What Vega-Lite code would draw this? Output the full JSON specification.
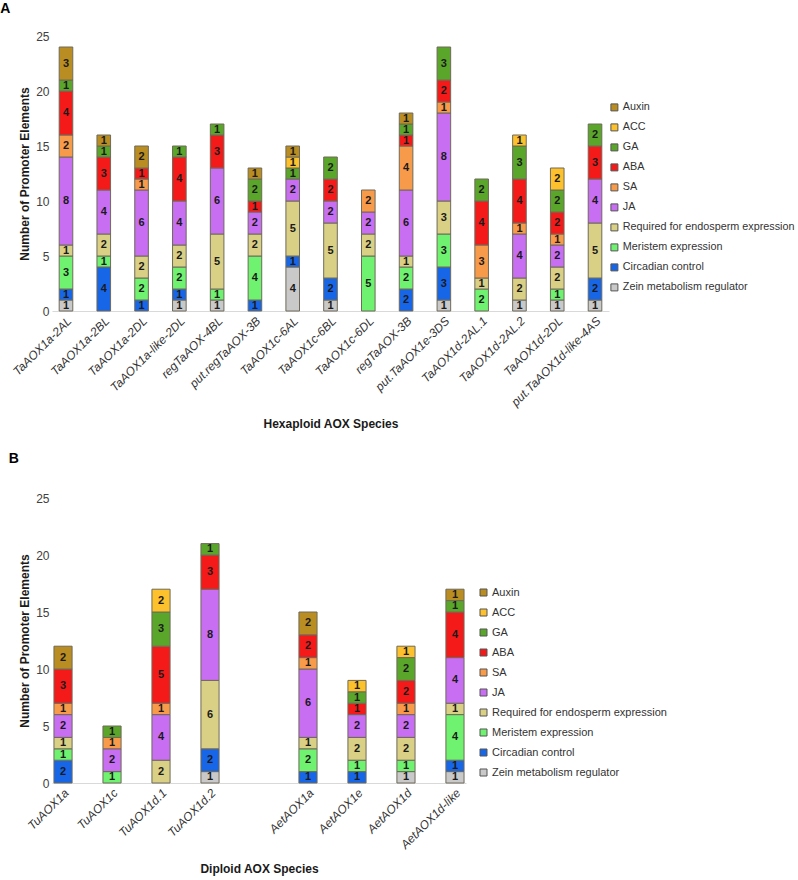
{
  "$schema": "https://vega.github.io/schema/vega-lite/v6.json",
  "padding": {"left": 0, "top": 2, "right": 0, "bottom": 5},
  "background": "white",
  "datasets": {
    "hex": [
      {"gene": "TaAOX1a-2AL", "cat": "Zein metabolism regulator", "n": 1},
      {"gene": "TaAOX1a-2AL", "cat": "Circadian control", "n": 1},
      {"gene": "TaAOX1a-2AL", "cat": "Meristem expression", "n": 3},
      {"gene": "TaAOX1a-2AL", "cat": "Required for endosperm expression", "n": 1},
      {"gene": "TaAOX1a-2AL", "cat": "JA", "n": 8},
      {"gene": "TaAOX1a-2AL", "cat": "SA", "n": 2},
      {"gene": "TaAOX1a-2AL", "cat": "ABA", "n": 4},
      {"gene": "TaAOX1a-2AL", "cat": "GA", "n": 1},
      {"gene": "TaAOX1a-2AL", "cat": "Auxin", "n": 3},
      {"gene": "TaAOX1a-2BL", "cat": "Circadian control", "n": 4},
      {"gene": "TaAOX1a-2BL", "cat": "Meristem expression", "n": 1},
      {"gene": "TaAOX1a-2BL", "cat": "Required for endosperm expression", "n": 2},
      {"gene": "TaAOX1a-2BL", "cat": "JA", "n": 4},
      {"gene": "TaAOX1a-2BL", "cat": "ABA", "n": 3},
      {"gene": "TaAOX1a-2BL", "cat": "GA", "n": 1},
      {"gene": "TaAOX1a-2BL", "cat": "Auxin", "n": 1},
      {"gene": "TaAOX1a-2DL", "cat": "Circadian control", "n": 1},
      {"gene": "TaAOX1a-2DL", "cat": "Meristem expression", "n": 2},
      {"gene": "TaAOX1a-2DL", "cat": "Required for endosperm expression", "n": 2},
      {"gene": "TaAOX1a-2DL", "cat": "JA", "n": 6},
      {"gene": "TaAOX1a-2DL", "cat": "SA", "n": 1},
      {"gene": "TaAOX1a-2DL", "cat": "ABA", "n": 1},
      {"gene": "TaAOX1a-2DL", "cat": "Auxin", "n": 2},
      {"gene": "TaAOX1a-like-2DL", "cat": "Zein metabolism regulator", "n": 1},
      {"gene": "TaAOX1a-like-2DL", "cat": "Circadian control", "n": 1},
      {"gene": "TaAOX1a-like-2DL", "cat": "Meristem expression", "n": 2},
      {"gene": "TaAOX1a-like-2DL", "cat": "Required for endosperm expression", "n": 2},
      {"gene": "TaAOX1a-like-2DL", "cat": "JA", "n": 4},
      {"gene": "TaAOX1a-like-2DL", "cat": "ABA", "n": 4},
      {"gene": "TaAOX1a-like-2DL", "cat": "GA", "n": 1},
      {"gene": "regTaAOX-4BL", "cat": "Zein metabolism regulator", "n": 1},
      {"gene": "regTaAOX-4BL", "cat": "Meristem expression", "n": 1},
      {"gene": "regTaAOX-4BL", "cat": "Required for endosperm expression", "n": 5},
      {"gene": "regTaAOX-4BL", "cat": "JA", "n": 6},
      {"gene": "regTaAOX-4BL", "cat": "ABA", "n": 3},
      {"gene": "regTaAOX-4BL", "cat": "GA", "n": 1},
      {"gene": "put.regTaAOX-3B", "cat": "Circadian control", "n": 1},
      {"gene": "put.regTaAOX-3B", "cat": "Meristem expression", "n": 4},
      {"gene": "put.regTaAOX-3B", "cat": "Required for endosperm expression", "n": 2},
      {"gene": "put.regTaAOX-3B", "cat": "JA", "n": 2},
      {"gene": "put.regTaAOX-3B", "cat": "ABA", "n": 1},
      {"gene": "put.regTaAOX-3B", "cat": "GA", "n": 2},
      {"gene": "put.regTaAOX-3B", "cat": "Auxin", "n": 1},
      {"gene": "TaAOX1c-6AL", "cat": "Zein metabolism regulator", "n": 4},
      {"gene": "TaAOX1c-6AL", "cat": "Circadian control", "n": 1},
      {"gene": "TaAOX1c-6AL", "cat": "Required for endosperm expression", "n": 5},
      {"gene": "TaAOX1c-6AL", "cat": "JA", "n": 2},
      {"gene": "TaAOX1c-6AL", "cat": "GA", "n": 1},
      {"gene": "TaAOX1c-6AL", "cat": "ACC", "n": 1},
      {"gene": "TaAOX1c-6AL", "cat": "Auxin", "n": 1},
      {"gene": "TaAOX1c-6BL", "cat": "Zein metabolism regulator", "n": 1},
      {"gene": "TaAOX1c-6BL", "cat": "Circadian control", "n": 2},
      {"gene": "TaAOX1c-6BL", "cat": "Required for endosperm expression", "n": 5},
      {"gene": "TaAOX1c-6BL", "cat": "JA", "n": 2},
      {"gene": "TaAOX1c-6BL", "cat": "ABA", "n": 2},
      {"gene": "TaAOX1c-6BL", "cat": "GA", "n": 2},
      {"gene": "TaAOX1c-6DL", "cat": "Meristem expression", "n": 5},
      {"gene": "TaAOX1c-6DL", "cat": "Required for endosperm expression", "n": 2},
      {"gene": "TaAOX1c-6DL", "cat": "JA", "n": 2},
      {"gene": "TaAOX1c-6DL", "cat": "SA", "n": 2},
      {"gene": "regTaAOX-3B", "cat": "Circadian control", "n": 2},
      {"gene": "regTaAOX-3B", "cat": "Meristem expression", "n": 2},
      {"gene": "regTaAOX-3B", "cat": "Required for endosperm expression", "n": 1},
      {"gene": "regTaAOX-3B", "cat": "JA", "n": 6},
      {"gene": "regTaAOX-3B", "cat": "SA", "n": 4},
      {"gene": "regTaAOX-3B", "cat": "ABA", "n": 1},
      {"gene": "regTaAOX-3B", "cat": "GA", "n": 1},
      {"gene": "regTaAOX-3B", "cat": "Auxin", "n": 1},
      {"gene": "put.TaAOX1e-3DS", "cat": "Zein metabolism regulator", "n": 1},
      {"gene": "put.TaAOX1e-3DS", "cat": "Circadian control", "n": 3},
      {"gene": "put.TaAOX1e-3DS", "cat": "Meristem expression", "n": 3},
      {"gene": "put.TaAOX1e-3DS", "cat": "Required for endosperm expression", "n": 3},
      {"gene": "put.TaAOX1e-3DS", "cat": "JA", "n": 8},
      {"gene": "put.TaAOX1e-3DS", "cat": "SA", "n": 1},
      {"gene": "put.TaAOX1e-3DS", "cat": "ABA", "n": 2},
      {"gene": "put.TaAOX1e-3DS", "cat": "GA", "n": 3},
      {"gene": "TaAOX1d-2AL.1", "cat": "Meristem expression", "n": 2},
      {"gene": "TaAOX1d-2AL.1", "cat": "Required for endosperm expression", "n": 1},
      {"gene": "TaAOX1d-2AL.1", "cat": "SA", "n": 3},
      {"gene": "TaAOX1d-2AL.1", "cat": "ABA", "n": 4},
      {"gene": "TaAOX1d-2AL.1", "cat": "GA", "n": 2},
      {"gene": "TaAOX1d-2AL.2", "cat": "Zein metabolism regulator", "n": 1},
      {"gene": "TaAOX1d-2AL.2", "cat": "Required for endosperm expression", "n": 2},
      {"gene": "TaAOX1d-2AL.2", "cat": "JA", "n": 4},
      {"gene": "TaAOX1d-2AL.2", "cat": "SA", "n": 1},
      {"gene": "TaAOX1d-2AL.2", "cat": "ABA", "n": 4},
      {"gene": "TaAOX1d-2AL.2", "cat": "GA", "n": 3},
      {"gene": "TaAOX1d-2AL.2", "cat": "ACC", "n": 1},
      {"gene": "TaAOX1d-2DL", "cat": "Zein metabolism regulator", "n": 1},
      {"gene": "TaAOX1d-2DL", "cat": "Meristem expression", "n": 1},
      {"gene": "TaAOX1d-2DL", "cat": "Required for endosperm expression", "n": 2},
      {"gene": "TaAOX1d-2DL", "cat": "JA", "n": 2},
      {"gene": "TaAOX1d-2DL", "cat": "SA", "n": 1},
      {"gene": "TaAOX1d-2DL", "cat": "ABA", "n": 2},
      {"gene": "TaAOX1d-2DL", "cat": "GA", "n": 2},
      {"gene": "TaAOX1d-2DL", "cat": "ACC", "n": 2},
      {"gene": "put.TaAOX1d-like-4AS", "cat": "Zein metabolism regulator", "n": 1},
      {"gene": "put.TaAOX1d-like-4AS", "cat": "Circadian control", "n": 2},
      {"gene": "put.TaAOX1d-like-4AS", "cat": "Required for endosperm expression", "n": 5},
      {"gene": "put.TaAOX1d-like-4AS", "cat": "JA", "n": 4},
      {"gene": "put.TaAOX1d-like-4AS", "cat": "ABA", "n": 3},
      {"gene": "put.TaAOX1d-like-4AS", "cat": "GA", "n": 2}
    ],
    "dip": [
      {"gene": "TuAOX1a", "cat": "Circadian control", "n": 2},
      {"gene": "TuAOX1a", "cat": "Meristem expression", "n": 1},
      {"gene": "TuAOX1a", "cat": "Required for endosperm expression", "n": 1},
      {"gene": "TuAOX1a", "cat": "JA", "n": 2},
      {"gene": "TuAOX1a", "cat": "SA", "n": 1},
      {"gene": "TuAOX1a", "cat": "ABA", "n": 3},
      {"gene": "TuAOX1a", "cat": "Auxin", "n": 2},
      {"gene": "TuAOX1c", "cat": "Meristem expression", "n": 1},
      {"gene": "TuAOX1c", "cat": "JA", "n": 2},
      {"gene": "TuAOX1c", "cat": "SA", "n": 1},
      {"gene": "TuAOX1c", "cat": "GA", "n": 1},
      {"gene": "TuAOX1d.1", "cat": "Required for endosperm expression", "n": 2},
      {"gene": "TuAOX1d.1", "cat": "JA", "n": 4},
      {"gene": "TuAOX1d.1", "cat": "SA", "n": 1},
      {"gene": "TuAOX1d.1", "cat": "ABA", "n": 5},
      {"gene": "TuAOX1d.1", "cat": "GA", "n": 3},
      {"gene": "TuAOX1d.1", "cat": "ACC", "n": 2},
      {"gene": "TuAOX1d.2", "cat": "Zein metabolism regulator", "n": 1},
      {"gene": "TuAOX1d.2", "cat": "Circadian control", "n": 2},
      {"gene": "TuAOX1d.2", "cat": "Required for endosperm expression", "n": 6},
      {"gene": "TuAOX1d.2", "cat": "JA", "n": 8},
      {"gene": "TuAOX1d.2", "cat": "ABA", "n": 3},
      {"gene": "TuAOX1d.2", "cat": "GA", "n": 1},
      {"gene": "AetAOX1a", "cat": "Circadian control", "n": 1},
      {"gene": "AetAOX1a", "cat": "Meristem expression", "n": 2},
      {"gene": "AetAOX1a", "cat": "Required for endosperm expression", "n": 1},
      {"gene": "AetAOX1a", "cat": "JA", "n": 6},
      {"gene": "AetAOX1a", "cat": "SA", "n": 1},
      {"gene": "AetAOX1a", "cat": "ABA", "n": 2},
      {"gene": "AetAOX1a", "cat": "Auxin", "n": 2},
      {"gene": "AetAOX1e", "cat": "Circadian control", "n": 1},
      {"gene": "AetAOX1e", "cat": "Meristem expression", "n": 1},
      {"gene": "AetAOX1e", "cat": "Required for endosperm expression", "n": 2},
      {"gene": "AetAOX1e", "cat": "JA", "n": 2},
      {"gene": "AetAOX1e", "cat": "ABA", "n": 1},
      {"gene": "AetAOX1e", "cat": "GA", "n": 1},
      {"gene": "AetAOX1e", "cat": "ACC", "n": 1},
      {"gene": "AetAOX1d", "cat": "Zein metabolism regulator", "n": 1},
      {"gene": "AetAOX1d", "cat": "Meristem expression", "n": 1},
      {"gene": "AetAOX1d", "cat": "Required for endosperm expression", "n": 2},
      {"gene": "AetAOX1d", "cat": "JA", "n": 2},
      {"gene": "AetAOX1d", "cat": "SA", "n": 1},
      {"gene": "AetAOX1d", "cat": "ABA", "n": 2},
      {"gene": "AetAOX1d", "cat": "GA", "n": 2},
      {"gene": "AetAOX1d", "cat": "ACC", "n": 1},
      {"gene": "AetAOX1d-like", "cat": "Zein metabolism regulator", "n": 1},
      {"gene": "AetAOX1d-like", "cat": "Circadian control", "n": 1},
      {"gene": "AetAOX1d-like", "cat": "Meristem expression", "n": 4},
      {"gene": "AetAOX1d-like", "cat": "Required for endosperm expression", "n": 1},
      {"gene": "AetAOX1d-like", "cat": "JA", "n": 4},
      {"gene": "AetAOX1d-like", "cat": "ABA", "n": 4},
      {"gene": "AetAOX1d-like", "cat": "GA", "n": 1},
      {"gene": "AetAOX1d-like", "cat": "Auxin", "n": 1}
    ]
  },
  "vconcat": [
    {
      "title": {"text": "A", "anchor": "start", "frame": "bounds", "dx": -10, "offset": 14, "fontSize": 14, "fontWeight": "bold", "color": "#000000"},
      "data": {"name": "hex"},
      "transform": [
        {"calculate": "indexof(['Zein metabolism regulator','Circadian control','Meristem expression','Required for endosperm expression','JA','SA','ABA','GA','ACC','Auxin'], datum.cat)", "as": "ord"},
        {"stack": "n", "groupby": ["gene"], "sort": [{"field": "ord", "order": "ascending"}], "as": ["y0", "y1"]},
        {"calculate": "(datum.y0 + datum.y1) / 2", "as": "ym"}
      ],
      "width": 557,
      "height": 275,
      "encoding": {
        "x": {
          "field": "gene", "type": "nominal",
          "scale": {"domain": ["TaAOX1a-2AL","TaAOX1a-2BL","TaAOX1a-2DL","TaAOX1a-like-2DL","regTaAOX-4BL","put.regTaAOX-3B","TaAOX1c-6AL","TaAOX1c-6BL","TaAOX1c-6DL","regTaAOX-3B","put.TaAOX1e-3DS","TaAOX1d-2AL.1","TaAOX1d-2AL.2","TaAOX1d-2DL","put.TaAOX1d-like-4AS"], "paddingInner": 0.64, "paddingOuter": 0.19},
          "axis": {"title": "Hexaploid AOX Species", "titlePadding": 11}
        }
      },
      "layer": [
        {
          "mark": {"type": "bar", "stroke": "#6e6a5a", "strokeWidth": 1},
          "encoding": {
            "y": {"field": "y0", "type": "quantitative", "scale": {"domain": [0, 25], "nice": false}, "axis": {"title": "Number of Promoter Elements", "values": [0, 5, 10, 15, 20, 25]}},
            "y2": {"field": "y1"},
            "color": {
              "field": "cat", "type": "nominal",
              "scale": {"domain": ["Auxin","ACC","GA","ABA","SA","JA","Required for endosperm expression","Meristem expression","Circadian control","Zein metabolism regulator"],
                        "range": ["#b98d21","#fcc12c","#5aa62a","#f51a1a","#f79a4a","#c86ef2","#d9cf85","#6ef26f","#1866e8","#c9c9c9"]},
              "legend": {"orient": "none", "legendX": 557, "legendY": 66, "title": null, "labelFontSize": 10.8}
            }
          }
        },
        {
          "mark": {"type": "text", "fontSize": 11, "fontWeight": "bold", "color": "#1a1a1a", "baseline": "middle"},
          "encoding": {
            "y": {"field": "ym", "type": "quantitative"},
            "text": {"field": "n", "type": "quantitative"}
          }
        }
      ]
    },
    {
      "title": {"text": "B", "anchor": "start", "frame": "bounds", "dx": -10, "offset": 26, "fontSize": 14, "fontWeight": "bold", "color": "#000000"},
      "data": {"name": "dip"},
      "transform": [
        {"calculate": "indexof(['Zein metabolism regulator','Circadian control','Meristem expression','Required for endosperm expression','JA','SA','ABA','GA','ACC','Auxin'], datum.cat)", "as": "ord"},
        {"stack": "n", "groupby": ["gene"], "sort": [{"field": "ord", "order": "ascending"}], "as": ["y0", "y1"]},
        {"calculate": "(datum.y0 + datum.y1) / 2", "as": "ym"}
      ],
      "width": 414,
      "height": 285,
      "encoding": {
        "x": {
          "field": "gene", "type": "nominal",
          "scale": {"domain": ["TuAOX1a","TuAOX1c","TuAOX1d.1","TuAOX1d.2"," ","AetAOX1a","AetAOX1e","AetAOX1d","AetAOX1d-like"], "paddingInner": 0.63, "paddingOuter": 0.04},
          "axis": {"title": "Diploid AOX Species", "titlePadding": 13}
        }
      },
      "layer": [
        {
          "mark": {"type": "bar", "stroke": "#6e6a5a", "strokeWidth": 1},
          "encoding": {
            "y": {"field": "y0", "type": "quantitative", "scale": {"domain": [0, 25], "nice": false}, "axis": {"title": "Number of Promoter Elements", "values": [0, 5, 10, 15, 20, 25]}},
            "y2": {"field": "y1"},
            "color": {
              "field": "cat", "type": "nominal",
              "scale": {"domain": ["Auxin","ACC","GA","ABA","SA","JA","Required for endosperm expression","Meristem expression","Circadian control","Zein metabolism regulator"],
                        "range": ["#b98d21","#fcc12c","#5aa62a","#f51a1a","#f79a4a","#c86ef2","#d9cf85","#6ef26f","#1866e8","#c9c9c9"]},
              "legend": {"orient": "none", "legendX": 426, "legendY": 89, "title": null}
            }
          }
        },
        {
          "mark": {"type": "text", "fontSize": 11, "fontWeight": "bold", "color": "#1a1a1a", "baseline": "middle"},
          "encoding": {
            "y": {"field": "ym", "type": "quantitative"},
            "text": {"field": "n", "type": "quantitative"}
          }
        }
      ]
    }
  ],
  "resolve": {"scale": {"color": "independent", "x": "independent", "y": "independent"}, "legend": {"color": "independent"}},
  "config": {
    "font": "Liberation Sans",
    "view": {"stroke": null},
    "concat": {"spacing": 22},
    "axisX": {"domainColor": "#d9d9d9", "domainWidth": 1, "ticks": false, "grid": false, "labelAngle": -45, "labelFontStyle": "italic", "labelFontSize": 12, "labelColor": "#333333", "labelPadding": 4, "titleFontSize": 12, "titleFontWeight": "bold", "titleColor": "#1a1a1a"},
    "axisY": {"domain": false, "ticks": false, "grid": false, "labelFontSize": 12, "labelColor": "#404040", "labelPadding": 3, "titleFontSize": 12, "titleFontWeight": "bold", "titleColor": "#1a1a1a", "titlePadding": 4},
    "legend": {"padding": 0, "symbolType": "square", "symbolSize": 49, "symbolStrokeColor": "#555555", "symbolStrokeWidth": 1, "labelFontSize": 11, "labelColor": "#333333", "labelOffset": 3, "rowPadding": 8, "labelLimit": 300}
  }
}
